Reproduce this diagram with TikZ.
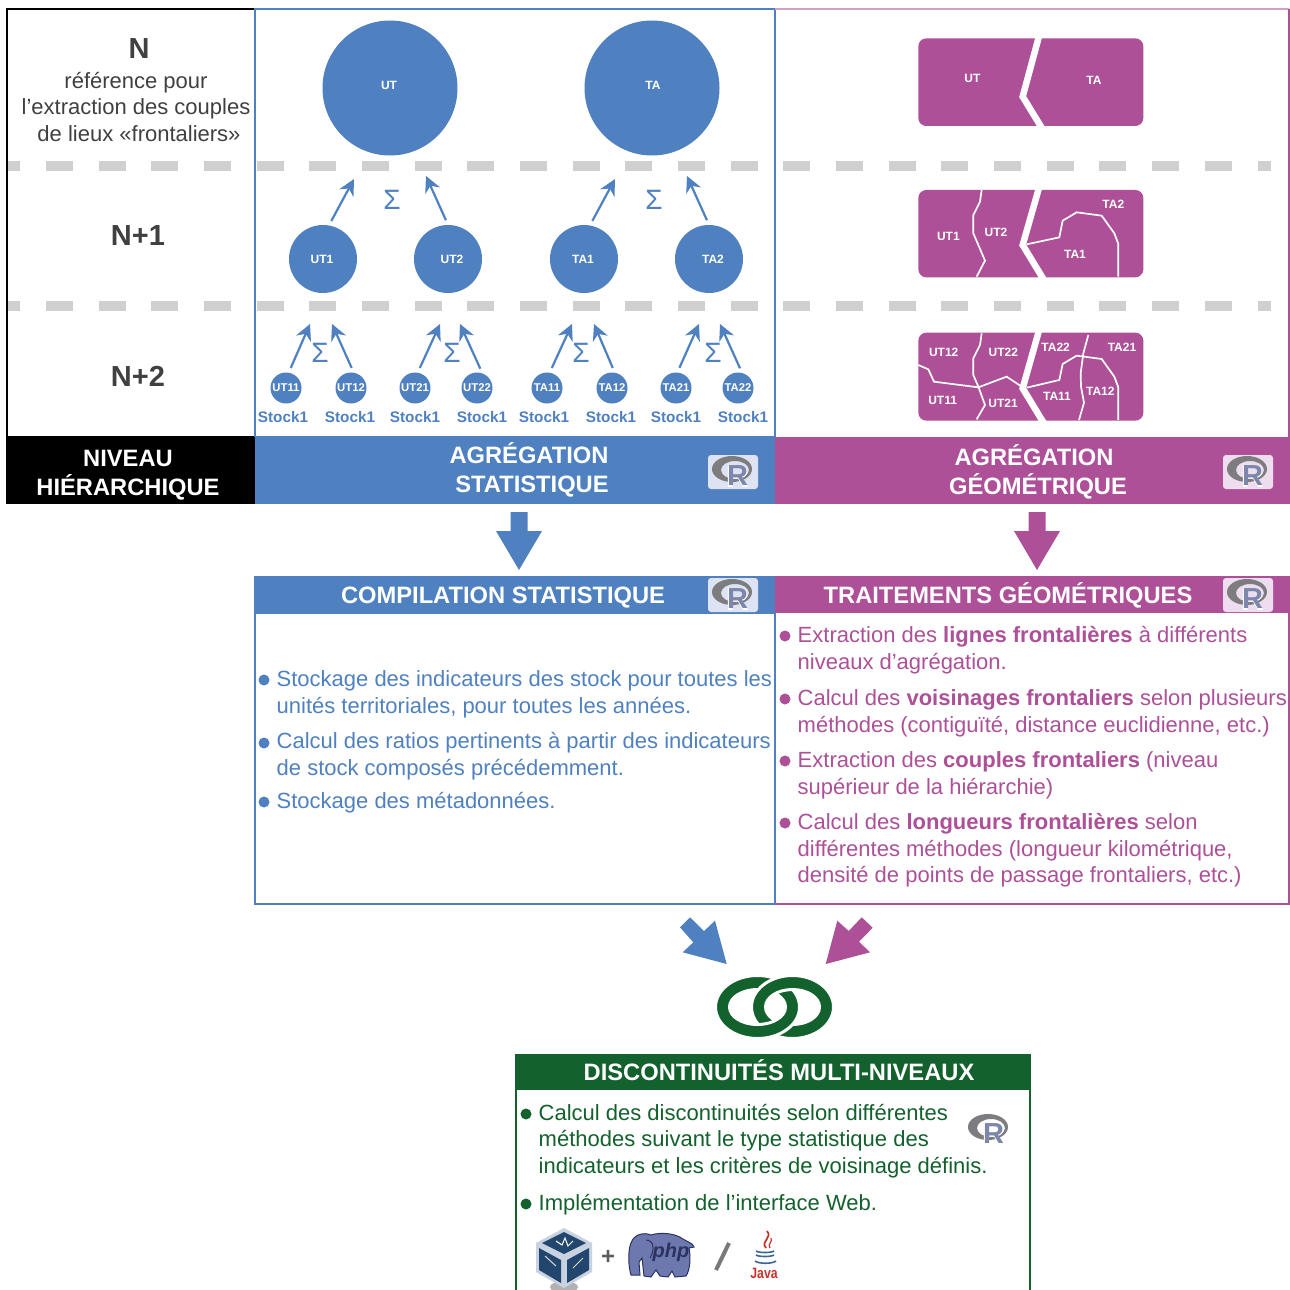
\documentclass[tikz,border=0pt]{standalone}
\usepackage{fontspec}
\setmainfont{Liberation Sans}
\usetikzlibrary{arrows.meta}
\definecolor{cblue}{RGB}{79,129,193}
\definecolor{cmag}{RGB}{174,80,152}
\definecolor{cgreen}{RGB}{19,97,45}
\definecolor{cdash}{RGB}{208,208,208}
\definecolor{ctext}{RGB}{64,64,64}
\definecolor{rbgblue}{RGB}{221,227,243}
\definecolor{rbgmag}{RGB}{238,221,238}
\definecolor{cphp}{RGB}{108,120,174}
\definecolor{cphpd}{RGB}{44,50,96}
\definecolor{cvbox}{RGB}{35,70,110}
\definecolor{cvframe}{RGB}{200,210,225}
\definecolor{cjblue}{RGB}{60,100,150}
\definecolor{cjred}{RGB}{200,50,45}
\definecolor{crr}{RGB}{125,135,172}
\definecolor{crring}{RGB}{125,125,128}
\newcommand{\fs}[1]{\fontsize{#1}{#1}\selectfont}
\tikzset{
  body/.style={anchor=north west,inner sep=0pt,align=left,font=\fontsize{22}{26.5}\selectfont},
  bullet/.style={circle,fill=#1,inner sep=0pt,minimum size=11pt},
  head/.style={inner sep=0pt,align=center,text=white,font=\bfseries\fontsize{23.7}{28.7}\selectfont},
  subhead/.style={anchor=base,inner sep=0pt,text=white,font=\bfseries\fs{23.7}},
  stockdisc/.style={circle,fill=cblue,inner sep=0pt,minimum size=#1},
  disclabel/.style={inner sep=0pt,text=white,font=\bfseries\fs{#1}},
  sumarrow/.style={draw=cblue,line width=2.2pt,shorten <=5pt,-{Stealth[length=16pt,width=16pt]}},
  sumlabel/.style={text=cblue,inner sep=0pt,font=\fs{28}},
  stocklabel/.style={text=cblue,inner sep=0pt,font=\bfseries\fs{15.3}},
  maplabel/.style={text=white,inner sep=0pt,font=\bfseries\fs{12}},
  mapshape/.style={fill=cmag,rounded corners=8pt},
  thinb/.style={draw=white,line width=1.7pt},
  thickb/.style={draw=white,line width=6.5pt},
  linkshape/.style={fill=cgreen,draw=white,line width=3pt,even odd rule},
  pics/rlogo/.style={code={
    \fill[#1,rounded corners=3pt] (-25,-17) rectangle (25,17);
    \fill[crring,even odd rule] (-1,-3) ellipse [x radius=20,y radius=13] (2,-2) ellipse [x radius=14,y radius=9];
    \node[inner sep=0pt,text=white,font=\bfseries\fs{32}] at (4.5,4) {R};
    \node[inner sep=0pt,text=crr,font=\bfseries\fs{29}] at (4.5,4) {R};
  }},
}
\begin{document}
\begin{tikzpicture}[x=1pt,y=-1pt]
\useasboundingbox (0,0) rectangle (1290,1290);
\clip (0,0) rectangle (1290,1290);
\fill[white] (0,0) rectangle (1290,1290);

% dashes
\foreach \yy in {161,301}{
  \fill[cdash] (8,\yy) rectangle ++(12,10);
  \foreach \k in {0,...,22}{
    \pgfmathsetmacro{\xx}{46+52.67*\k}
    \fill[cdash] (\xx,\yy) rectangle ++(27,10);
  }
  \fill[cdash] (1258,\yy) rectangle ++(13,10);
}

% panels
\draw[black,line width=2pt] (7,9) rectangle (255,437);
\draw[cblue,line width=2pt] (255,9) rectangle (775,437);
\draw[cmag!55!white,line width=2pt] (775,9) -- (1289,9);
\draw[cmag,line width=2pt] (1289,9) -- (1289,437);
\fill[black] (6,437) rectangle (255,504);
\fill[cblue] (255,437) rectangle (775,504);
\fill[cmag] (775,437) rectangle (1290,504);

% left column
\node[inner sep=0pt,text=ctext,font=\bfseries\fs{29}] (nN) at (139,49) {N};
\node[inner sep=0pt,text=ctext,align=center,font=\fontsize{22}{26.5}\selectfont] (nref) at (136,107) {référence pour\\l’extraction des couples\\\hspace*{6pt}de lieux «frontaliers»};
\node[inner sep=0pt,text=ctext,font=\bfseries\fs{29}] (nN1) at (138,236) {N+1};
\node[inner sep=0pt,text=ctext,font=\bfseries\fs{29}] (nN2) at (138,376) {N+2};

\node[head] (hNiv) at (128,475) {NIVEAU\\HIÉRARCHIQUE};
\node[head] (hAgrS) at (532,469.5) {\hspace*{-6pt}AGRÉGATION\\STATISTIQUE};
\node[head] (hAgrG) at (1038,472) {\hspace*{-8pt}AGRÉGATION\\GÉOMÉTRIQUE};

% big discs
\node[stockdisc=135pt] (UT) at (390,88) {};
\node[stockdisc=135pt] (TA) at (652,88) {};
\node[disclabel=12] (lUT) at (389,85) {UT};
\node[disclabel=12] (lTA) at (653,85) {TA};
\foreach \n/\x/\lx in {UT1/323/322,UT2/448/452,TA1/584/583,TA2/709/713}{
  \node[stockdisc=68pt] (\n) at (\x,259) {};
  \node[disclabel=12] (l\n) at (\lx,259) {\n};
}
\foreach \n/\x in {UT11/286,UT12/351,UT21/415,UT22/477,TA11/547,TA12/612,TA21/676,TA22/738}{
  \node[stockdisc=31pt] (\n) at (\x,388) {};
  \node[disclabel=11.3] (l\n) at (\x,388) {\n};
}
\foreach \n/\x in {s1/283,s2/350,s3/415,s4/482,s5/544,s6/611,s7/676,s8/743}
  \node[stocklabel] (\n) at (\x,417) {Stock1};

% aggregation arrows
\foreach \src/\tx/\ty/\ang/\nm in {
  UT1/354/179/80/a,UT2/426/176/90/b,TA1/615/179/80/c,TA2/687/176/90/d,
  UT11/310/324/80/e,UT12/332/324/80/f,UT21/440/324/80/g,UT22/460/324/70/h,
  TA11/572/324/80/i,TA12/594/324/80/j,TA21/699/324/85/k,TA22/720/324/75/l}{
  \coordinate (tip\nm) at (\tx,\ty);
  \draw[sumarrow] (\src.\ang) -- (tip\nm);
}
\foreach \x/\y/\nm in {392/200/a,654/200/b,320/353/c,452/353/d,581/353/e,713/353/f}
  \node[sumlabel] (sum\nm) at (\x,\y) {Σ};

% maps
\begin{scope}[shift={(780,10)},x=0.33333pt,y=-0.33333pt]
  \fill[mapshape] (415,85) rectangle (1090,348);
  \fill[mapshape] (415,540) rectangle (1090,802);
  \fill[mapshape] (415,968) rectangle (1090,1232);
  \draw[thickb] (778,75) -- (728,260) -- (788,358);
  \draw[thickb] (778,530) -- (728,705) -- (793,812);
  \draw[thinb] (605,540) -- (600,575) -- (580,615) -- (580,670) -- (615,752) -- (590,800);
  \draw[thinb] (740,703) -- (838,682) -- (848,632) -- (890,607) -- (965,617) -- (1003,670) -- (1015,702) -- (1015,800);
  \draw[thinb] (605,970) -- (600,1005) -- (580,1045) -- (580,1095) -- (595,1130) -- (615,1185) -- (590,1228);
  \draw[thinb] (415,1065) -- (445,1078) -- (462,1115) -- (595,1132) -- (680,1100) -- (722,1128);
  \draw[thinb] (740,1133) -- (838,1110) -- (848,1062) -- (890,1037) -- (965,1047) -- (1003,1100) -- (1015,1132) -- (1015,1230);
  \draw[thinb] (925,975) -- (910,1030) -- (902,1090) -- (903,1130) -- (912,1178) -- (897,1230);
  \draw[thickb] (778,958) -- (728,1135) -- (793,1242);
  \foreach \x/\y/\t in {577/203/UT,942/208/TA,505/677/UT1,648/666/UT2,1000/580/TA2,885/731/TA1,
    491/1025/UT12,670/1025/UT22,827/1010/TA22,1026/1010/TA21,488/1168/UT11,669/1178/UT21,831/1158/TA11,961/1141/TA12}
    \node[maplabel] (m\t) at (\x,\y+2) {\t};
\end{scope}

% block arrows
\fill[cblue] (510.5,512) -- (527.5,512) -- (527.5,531) -- (542,531) -- (519,570) -- (496,531) -- (510.5,531) -- cycle;
\fill[cmag] (1028.5,512) -- (1045.5,512) -- (1045.5,531) -- (1060,531) -- (1037,570) -- (1014,531) -- (1028.5,531) -- cycle;

% section headers and boxes
\draw[cblue,line width=2pt] (255,613) rectangle (775,904);
\draw[cmag,line width=2pt] (775,904) -- (1289,904) -- (1289,613);
\fill[cblue] (254,576) rectangle (775,613);
\fill[cmag] (775,576) rectangle (1290,613);
\node[subhead] (hComp) at (503,603.5) {COMPILATION STATISTIQUE};
\node[subhead] (hTrait) at (1008,603.5) {TRAITEMENTS GÉOMÉTRIQUES};

% R logos
\pic at (733,472) {rlogo=rbgblue};
\pic at (733,595) {rlogo=rbgblue};
\pic at (1248,472) {rlogo=rbgmag};
\pic at (1248,595) {rlogo=rbgmag};
\pic at (989,1130) {rlogo=white};

% blue text
\foreach \y/\nm in {680/a,743/b,802/c} \node[bullet=cblue] (bb\nm) at (264,\y) {};
\begin{scope}[text=cblue]
\node[body] (tb1) at (276.5,670.5) {Stockage des indicateurs des stock pour toutes les\\unités territoriales, pour toutes les années.};
\node[body] (tb2) at (276.5,732.5) {Calcul des ratios pertinents à partir des indicateurs\\de stock composés précédemment.};
\node[body] (tb3) at (276.5,792) {Stockage des métadonnées.};
\end{scope}

% magenta text
\foreach \y/\nm in {636/a,699/b,761/c,823/d} \node[bullet=cmag] (bm\nm) at (785,\y) {};
\begin{scope}[text=cmag]
\node[body] (tm1) at (797.5,626.5) {Extraction des \textbf{lignes frontalières} à différents\\niveaux d’agrégation.};
\node[body] (tm2) at (797.5,689.5) {Calcul des \textbf{voisinages frontaliers} selon plusieurs\\méthodes (contiguïté, distance euclidienne, etc.)};
\node[body] (tm3) at (797.5,751.5) {Extraction des \textbf{couples frontaliers} (niveau\\supérieur de la hiérarchie)};
\node[body] (tm4) at (797.5,813.5) {Calcul des \textbf{longueurs frontalières} selon\\différentes méthodes (longueur kilométrique,\\densité de points de passage frontaliers, etc.)};
\end{scope}

% diagonal arrows
\fill[cblue] (690,917.3) -- (704,931) -- (715,920.7) -- (726.7,964) -- (682.7,952.3) -- (693.3,942.3) -- (680,927.3) -- cycle;
\fill[cmag] (861.7,917.3) -- (872.7,927.7) -- (859,941.7) -- (870,952.3) -- (825.7,964) -- (837.3,920.7) -- (848.7,931) -- cycle;

% chain link
\filldraw[linkshape] (792.5,1007) ellipse [x radius=41,y radius=31.5] (792.5,1007) ellipse [x radius=27,y radius=17.5];
\filldraw[linkshape] (757.5,1007) ellipse [x radius=42,y radius=31.5] (757.5,1007) ellipse [x radius=28,y radius=17.5];
\begin{scope}
  \clip (752,960) rectangle (812,1000);
  \filldraw[linkshape] (792.5,1007) ellipse [x radius=41,y radius=31.5] (792.5,1007) ellipse [x radius=27,y radius=17.5];
\end{scope}

% green box
\draw[cgreen,line width=2pt] (516,1054) -- (516,1295);
\draw[cgreen,line width=2pt] (1030,1054) -- (1030,1295);
\fill[cgreen] (515,1054) rectangle (1031,1090);
\node[subhead] (hDisc) at (779,1080.5) {DISCONTINUITÉS MULTI-NIVEAUX};
\foreach \y/\nm in {1114/a,1204/b} \node[bullet=cgreen] (bg\nm) at (526,\y) {};
\begin{scope}[text=cgreen]
\node[body] (tg1) at (538.5,1104) {Calcul des discontinuités selon différentes\\méthodes suivant le type statistique des\\indicateurs et les critères de voisinage définis.};
\node[body] (tg2) at (538.5,1194.5) {Implémentation de l’interface Web.};
\end{scope}

% VirtualBox cube
\fill[gray!60] (564,1287) ellipse [x radius=14,y radius=6];
\fill[cvframe] (564,1228) -- (592,1243) -- (592,1272) -- (564,1288) -- (536,1272) -- (536,1243) -- cycle;
\fill[cvbox] (564,1232) -- (586,1243) -- (564,1254) -- (542,1243) -- cycle;
\fill[cvbox] (539,1248) -- (561,1260) -- (561,1283) -- (539,1270) -- cycle;
\fill[cvbox] (589,1248) -- (567,1260) -- (567,1283) -- (589,1270) -- cycle;
\draw[white,line width=1pt] (556,1241) -- (562,1245) -- (565,1238) -- (568,1246) -- (573,1241);
\draw[white!70!gray,line width=1pt] (545,1256) -- (556,1266);
\draw[white!70!gray,line width=1pt] (583,1258) -- (573,1268);

% plus and slash
\node[inner sep=0pt,text=ctext!85!white,font=\bfseries\fs{24}] (plus) at (608,1257) {+};
\draw[ctext!70!white,line width=4pt] (716,1270) -- (729,1243);

% php elephant
\filldraw[fill=cphp,draw=cphpd,line width=1pt]
  (631,1275) .. controls (628,1265) and (628,1250) .. (631,1243)
  .. controls (634,1234) and (644,1232) .. (651,1235)
  .. controls (660,1232) and (675,1233) .. (683,1239)
  -- (692,1244) -- (694,1247) -- (689,1248)
  .. controls (691,1258) and (690,1270) .. (686,1276)
  -- (675,1277) -- (672,1271) -- (668,1277) -- (660,1276) -- (656,1270) -- (651,1277)
  -- (644,1276) -- (642,1258) -- (639,1262) -- (640,1275) -- cycle;
\draw[cphpd,line width=1pt] (646,1240) .. controls (654,1240) and (655,1250) .. (650,1258);
\node[inner sep=0pt,text=cphpd,font=\bfseries\itshape\fs{20}] (php) at (671,1252) {php};

% java
\draw[cjred,line width=1.8pt] (767,1231) .. controls (773,1238) and (760,1241) .. (766,1248);
\draw[cjred,line width=1.2pt] (771,1238) .. controls (773,1242) and (767,1244) .. (770,1248);
\draw[cjblue,line width=1.6pt] (756,1251) .. controls (759,1253) and (771,1253) .. (774,1251);
\draw[cjblue,line width=1.6pt] (756,1255) .. controls (759,1257) and (771,1257) .. (774,1255);
\draw[cjblue,line width=1.6pt] (755,1261) .. controls (759,1264) and (772,1264) .. (776,1261);
\node[inner sep=0pt,text=cjred,font=\bfseries\fs{15},xscale=0.82] (java) at (764,1273) {Java};
\end{tikzpicture}
\end{document}
